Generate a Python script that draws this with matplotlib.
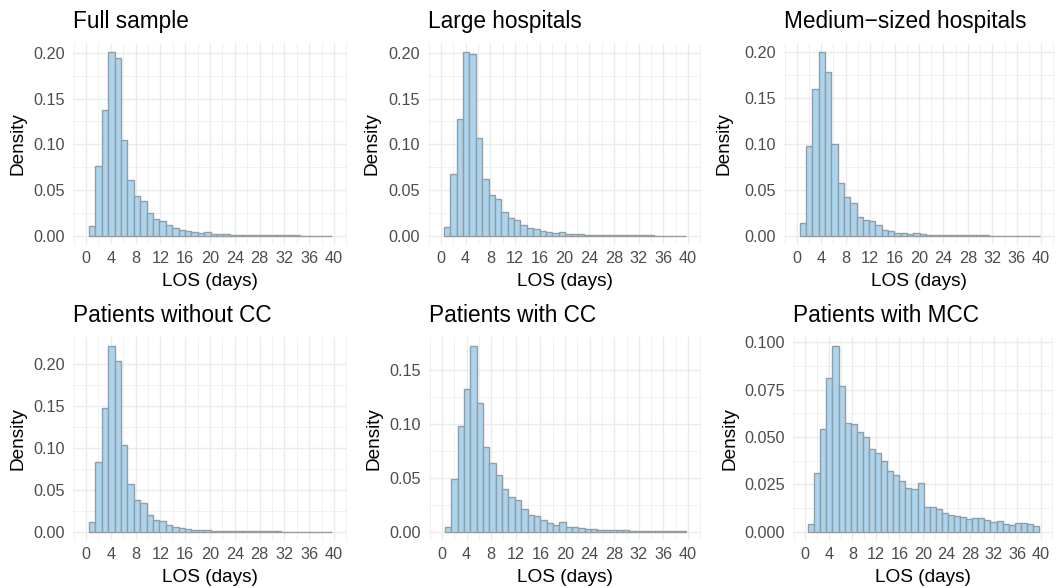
import numpy as np
import matplotlib
matplotlib.use("Agg")
import matplotlib.pyplot as plt
import matplotlib.transforms as mtransforms

plt.rcParams["font.family"] = ["Liberation Sans", "DejaVu Sans"]

# --------------------
# data: density per LOS bin (38 bins between ~0.5 and ~39.7 days)
# --------------------
bin_start = 0.48
bin_width = 1.033
n_bins = 38

full_sample = [0.0102, 0.0759, 0.1370, 0.2007, 0.1940, 0.1050, 0.0606, 0.0438, 0.0383, 0.0248,
               0.0182, 0.0164, 0.0120, 0.0084, 0.0069, 0.0051, 0.0040, 0.0033, 0.0044, 0.0022,
               0.0018, 0.0015, 0.0012, 0.0010, 0.0009, 0.0008, 0.0007, 0.0006, 0.0006, 0.0005,
               0.0005, 0.0004, 0.0004, 0.0003, 0.0003, 0.0003, 0.0002, 0.0002]
large_hosp = [0.0091, 0.0675, 0.1277, 0.2007, 0.1990, 0.1070, 0.0620, 0.0442, 0.0398, 0.0259,
              0.0190, 0.0172, 0.0117, 0.0088, 0.0077, 0.0055, 0.0040, 0.0036, 0.0044, 0.0022,
              0.0018, 0.0015, 0.0012, 0.0010, 0.0009, 0.0008, 0.0007, 0.0006, 0.0006, 0.0005,
              0.0005, 0.0004, 0.0004, 0.0003, 0.0003, 0.0003, 0.0002, 0.0002]
medium_hosp = [0.0135, 0.0975, 0.1600, 0.2000, 0.1785, 0.1000, 0.0570, 0.0420, 0.0353, 0.0210,
               0.0167, 0.0156, 0.0120, 0.0065, 0.0055, 0.0036, 0.0030, 0.0025, 0.0033, 0.0015,
               0.0013, 0.0011, 0.0009, 0.0008, 0.0007, 0.0006, 0.0005, 0.0005, 0.0004, 0.0004,
               0.0003, 0.0003, 0.0003, 0.0002, 0.0002, 0.0002, 0.0002, 0.0001]
without_cc = [0.0121, 0.0837, 0.1480, 0.2213, 0.2040, 0.1038, 0.0571, 0.0378, 0.0342, 0.0205,
              0.0137, 0.0125, 0.0085, 0.0056, 0.0044, 0.0028, 0.0020, 0.0016, 0.0016, 0.0012,
              0.0010, 0.0008, 0.0007, 0.0006, 0.0005, 0.0004, 0.0004, 0.0003, 0.0003, 0.0003,
              0.0002, 0.0002, 0.0002, 0.0002, 0.0001, 0.0001, 0.0001, 0.0001]
with_cc = [0.0047, 0.0490, 0.0984, 0.1320, 0.1720, 0.1190, 0.0784, 0.0638, 0.0528, 0.0397,
           0.0322, 0.0290, 0.0212, 0.0153, 0.0144, 0.0106, 0.0081, 0.0066, 0.0094, 0.0041,
           0.0041, 0.0031, 0.0025, 0.0022, 0.0019, 0.0016, 0.0014, 0.0013, 0.0012, 0.0011,
           0.0010, 0.0009, 0.0009, 0.0008, 0.0008, 0.0007, 0.0007, 0.0006]
with_mcc = [0.0039, 0.0311, 0.0543, 0.0813, 0.0979, 0.0770, 0.0573, 0.0569, 0.0525, 0.0498,
            0.0438, 0.0413, 0.0375, 0.0320, 0.0299, 0.0270, 0.0231, 0.0226, 0.0256, 0.0132,
            0.0130, 0.0121, 0.0098, 0.0089, 0.0085, 0.0078, 0.0066, 0.0075, 0.0071, 0.0064,
            0.0053, 0.0059, 0.0041, 0.0036, 0.0046, 0.0046, 0.0043, 0.0032]

titles = ["Full sample", "Large hospitals", "Medium\u2212sized hospitals",
          "Patients without CC", "Patients with CC", "Patients with MCC"]
series = [full_sample, large_hosp, medium_hosp, without_cc, with_cc, with_mcc]
y_breaks = [np.arange(0, 0.201, 0.05)] * 4 + [np.arange(0, 0.151, 0.05), np.arange(0, 0.101, 0.025)]
y_fmt = ["%.2f"] * 5 + ["%.3f"]
x_breaks = np.arange(0, 41, 4)

# panel boxes in pixels: left, top, right, bottom ; ylabel x centre
W, H = 1059, 588
boxes = [(73, 43, 347, 245, 18), (428, 43, 701, 245, 371), (784, 43, 1054, 245, 724),
         (73, 337, 347, 541, 18), (429, 337, 701, 541, 373), (793, 337, 1053, 541, 729)]

FILL = "#AAD4EF"
EDGE = "#959DA1"
GRID = "#EBEBEB"

edges = bin_start + bin_width * np.arange(n_bins + 1)
lefts = edges[:-1]

fig = plt.figure(figsize=(W / 100, H / 100), dpi=100)

for i in range(6):
    l, t, r, b, ylx = boxes[i]
    ax = fig.add_axes([l / W, 1 - b / H, (r - l) / W, (b - t) / H])
    vals = np.array(series[i])

    ax.bar(lefts, vals, width=bin_width, align="edge", color=FILL,
           edgecolor=EDGE, linewidth=1.0, zorder=3)

    ax.set_xlim(-2.1, 42.1)
    ymax = vals.max()
    ax.set_ylim(-0.05 * ymax, ymax * 1.05)

    yb = y_breaks[i]
    ax.set_xticks(x_breaks)
    ax.set_xticks(np.arange(-2, 43, 4), minor=True)
    ax.set_yticks(yb)
    ax.set_yticks(yb[:-1] + (yb[1] - yb[0]) / 2, minor=True)
    ax.set_yticklabels([y_fmt[i] % v for v in yb])

    ax.grid(which="major", color=GRID, linewidth=1.0, zorder=0)
    ax.grid(which="minor", color=GRID, linewidth=0.5, zorder=0)
    ax.set_axisbelow(True)
    for s in ax.spines.values():
        s.set_visible(False)
    ax.tick_params(which="both", length=0, labelsize=11.7, labelcolor="#4D4D4D")
    ax.tick_params(axis="x", pad=4.5)
    ax.tick_params(axis="y", pad=5.5)

    ax.set_title(titles[i], loc="left", fontsize=16.3, pad=11, color="black")
    ax.set_xlabel("LOS (days)", fontsize=13.7, labelpad=5)
    ax.set_ylabel("Density", fontsize=13.7)
    tr = mtransforms.blended_transform_factory(fig.transFigure, ax.transAxes)
    ax.yaxis.set_label_coords((ylx + 9) / W, 0.5, transform=tr)

plt.savefig("out.png", dpi=100)
